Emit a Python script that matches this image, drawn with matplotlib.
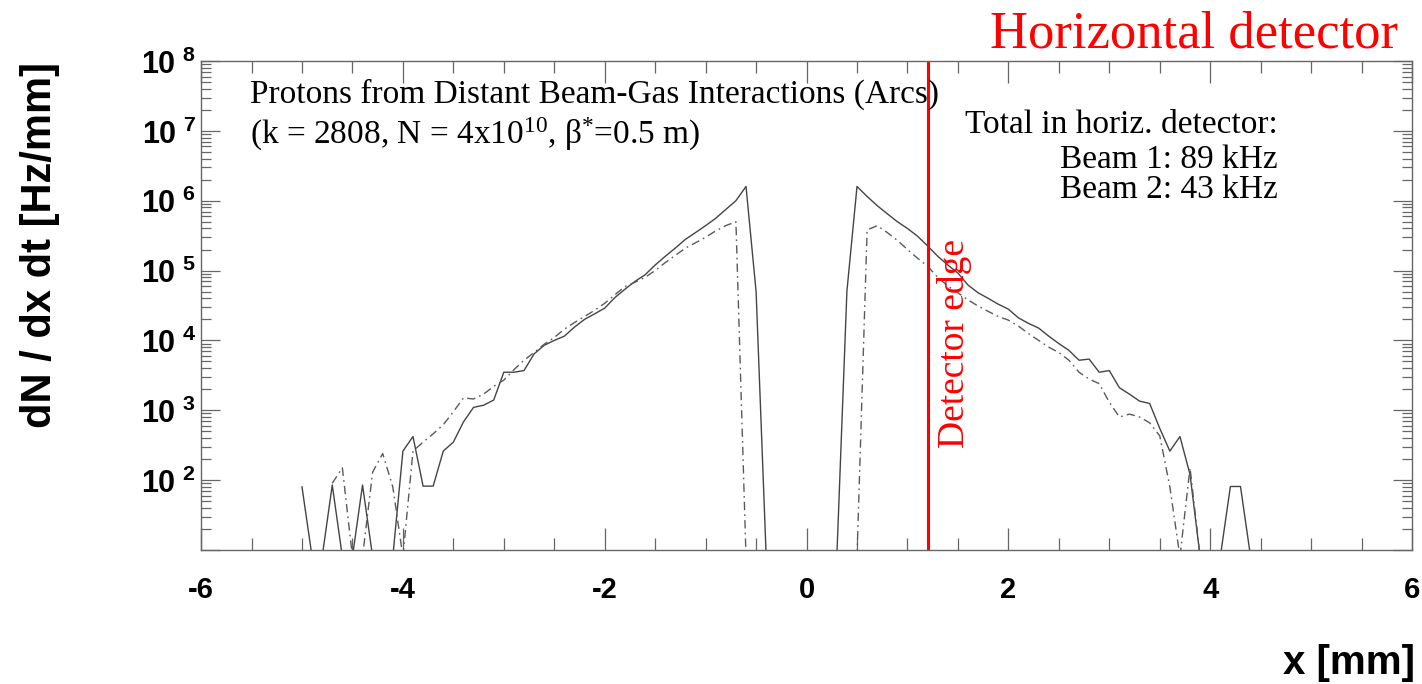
import numpy as np
import matplotlib
matplotlib.use('Agg')
import matplotlib.pyplot as plt
from matplotlib.ticker import FixedLocator, MultipleLocator, FuncFormatter, NullFormatter
import matplotlib.transforms as mtransforms

plt.rcParams['mathtext.fontset'] = 'custom'
plt.rcParams['mathtext.rm'] = 'Liberation Serif'
plt.rcParams['mathtext.it'] = 'Liberation Serif:italic'
plt.rcParams['mathtext.bf'] = 'Liberation Sans:bold'

# bin centres of the histogram, 0.1 mm bins
x_bins = np.round(np.arange(-5.0, 4.45, 0.1), 1)

# Beam 1 (solid), rate per bin in Hz/mm, 0 = empty bin
beam1 = [80, 0, 0, 85, 0, 0, 85, 0, 0, 0,
         260, 420, 82, 82, 260, 350, 680, 1100, 1180, 1400,
         3500, 3500, 3700, 6400, 8500, 10000, 11500, 15500, 20000, 24000,
         29000, 41000, 54000, 70000, 87000, 120000, 160000, 210000, 280000, 350000,
         440000, 560000, 750000, 1000000, 1600000, 50000,
         0, 0, 0, 0, 0, 0, 0, 0,
         51000, 1600000, 1150000, 850000, 650000, 500000, 400000, 310000, 225000, 160000,
         120000, 92000, 62000, 48000, 40000, 33000, 28000, 21000, 17500, 15000,
         11500, 9000, 7200, 5200, 5400, 3500, 3700, 2100, 1700, 1350,
         1250, 550, 260, 420, 120, 0, 0, 0, 81, 81, 0]

# Beam 2 (dash-dot), nan = not drawn
beam2 = [np.nan, np.nan, np.nan, 90, 150, 0, 0, 130, 240, 80,
         0, 260, 350, 460, 620, 950, 1500, 1450, 1700, 2200,
         2700, 3800, 5200, 6700, 8800, 11000, 14500, 18000, 22000, 27000,
         34000, 45000, 59000, 68000, 80000, 100000, 130000, 165000, 210000, 250000,
         300000, 370000, 440000, 500000, 0,
         0, 0, 0, 0, 0, 0, 0, 0, 0, 0, 0,
         380000, 440000, 350000, 270000, 200000, 150000, 115000, 80000, 60000, 48000,
         38000, 31000, 26000, 22000, 19500, 16000, 12500, 10000, 8000, 6700,
         5200, 3500, 2800, 2400, 1300, 800, 880, 800, 660, 430,
         80, 0, 150, 0,
         np.nan, np.nan, np.nan, np.nan, np.nan]

detector_edge = 1.2
y_min, y_max = 10, 1e8

fig = plt.figure(figsize=(14.22, 6.84), dpi=100)
ax = fig.add_axes([0.1414, 0.196, 0.8516, 0.7148])

# empty bins drop just below the axis floor and get clipped
floor = 8.0
b1 = np.array(beam1, dtype=float)
b1 = np.where(b1 <= 0, floor, b1)
b2 = np.array(beam2, dtype=float)
b2 = np.where(b2 <= 0, floor, b2)

ax.plot(x_bins, b1, color='#444444', lw=1.0)
ax.plot(x_bins, b2, color='#5a5a5a', lw=1.0, dashes=(6, 3, 1.2, 3))

ax.set_yscale('log')
ax.set_xlim(-6, 6)
ax.set_ylim(y_min, y_max)

ax.axvline(detector_edge, color='#ff0000', lw=2.2)

for s in ax.spines.values():
    s.set_color('#666666')
    s.set_linewidth(1.0)

ax.xaxis.set_major_locator(MultipleLocator(2))
ax.xaxis.set_minor_locator(MultipleLocator(0.5))
ax.yaxis.set_major_locator(FixedLocator([10.0 ** k for k in range(1, 9)]))
ax.yaxis.set_minor_locator(FixedLocator([m * 10.0 ** k for k in range(1, 8) for m in range(2, 10)]))
ax.yaxis.set_minor_formatter(NullFormatter())


def ylab(v, pos):
    k = int(round(np.log10(v)))
    if k < 2:
        return ''
    return r'$\mathbf{10^{\;\,%d}}$' % k


ax.yaxis.set_major_formatter(FuncFormatter(ylab))
ax.xaxis.set_major_formatter(FuncFormatter(lambda v, p: '%d' % v))

ax.tick_params(which='both', direction='in', top=True, right=True, color='#666666', width=0.9)
ax.tick_params(axis='x', which='major', length=16, pad=19, labelsize=21)
ax.tick_params(axis='x', which='minor', length=8.5)
ax.tick_params(axis='y', which='major', length=14, pad=4, labelsize=22)
ax.tick_params(axis='y', which='minor', length=7)
for lab in ax.get_xticklabels():
    lab.set_fontfamily('Liberation Sans')
    lab.set_fontweight('bold')

serif = ['Liberation Serif', 'DejaVu Serif']
ax.text(0.0405, 0.914, 'Protons from Distant Beam-Gas Interactions (Arcs)',
        transform=ax.transAxes, family=serif, fontsize=24, va='baseline', ha='left')
ax.text(0.0405, 0.830, r'(k = 2808, N = 4x10$^{10}$, β$^{*}$=0.5 m)',
        transform=ax.transAxes, family=serif, fontsize=24, va='baseline', ha='left')

ax.text(0.889, 0.853, 'Total in horiz. detector:', transform=ax.transAxes,
        family=serif, fontsize=24, va='baseline', ha='right')
ax.text(0.889, 0.781, 'Beam 1: 89 kHz', transform=ax.transAxes,
        family=serif, fontsize=24, va='baseline', ha='right')
ax.text(0.889, 0.719, 'Beam 2: 43 kHz', transform=ax.transAxes,
        family=serif, fontsize=24, va='baseline', ha='right')

trans = mtransforms.blended_transform_factory(ax.transData, ax.transAxes)
ax.text(detector_edge + 0.09, 0.209, 'Detector edge', transform=trans, rotation=90,
        family=serif, fontsize=27, color='#ff0000', ha='left', va='bottom')

fig.text(0.983, 0.931, 'Horizontal detector', family=serif, fontsize=38,
         color='#ff0000', ha='right', va='baseline')

fig.text(0.028, 1 - 62 / 684, 'dN / dx dt [Hz/mm]', rotation=90, family='Liberation Sans',
         fontweight='bold', fontsize=30, ha='center', va='top')
fig.text(0.995, 1 - 663 / 684, 'x [mm]', family='Liberation Sans', fontweight='bold',
         fontsize=29, ha='right', va='center')

fig.savefig('out.png', dpi=100)
